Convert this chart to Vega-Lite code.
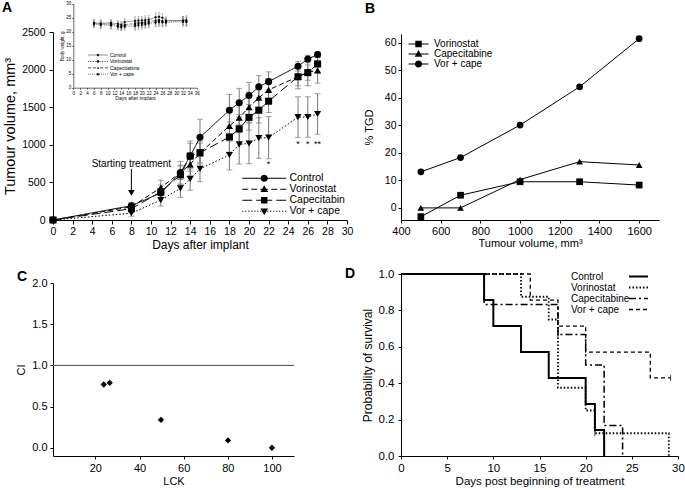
{
  "$schema": "https://vega.github.io/schema/vega-lite/v6.json",
  "padding": {"left": 2, "top": 0, "right": 0, "bottom": 0},
  "bounds": "flush",
  "columns": 2,
  "spacing": {"row": 54, "column": 54},
  "resolve": {"scale": {"shape": "independent", "strokeDash": "independent", "strokeWidth": "independent"}},
  "datasets": {
    "tv": [
      {"s": "Control", "day": 0, "v": 0, "e": 0},
      {"s": "Control", "day": 8, "v": 190, "e": 40},
      {"s": "Control", "day": 11, "v": 360, "e": 60},
      {"s": "Control", "day": 13, "v": 630, "e": 90},
      {"s": "Control", "day": 14, "v": 850, "e": 200},
      {"s": "Control", "day": 15, "v": 1100, "e": 240},
      {"s": "Control", "day": 18, "v": 1460, "e": 210},
      {"s": "Control", "day": 19, "v": 1560, "e": 190},
      {"s": "Control", "day": 20, "v": 1655, "e": 175},
      {"s": "Control", "day": 21, "v": 1770, "e": 150},
      {"s": "Control", "day": 22, "v": 1840, "e": 130},
      {"s": "Control", "day": 25, "v": 2045, "e": 65},
      {"s": "Control", "day": 26, "v": 2140, "e": 50},
      {"s": "Control", "day": 27, "v": 2200, "e": 35},
      {"s": "Vorinostat", "day": 0, "v": 0, "e": 0},
      {"s": "Vorinostat", "day": 8, "v": 175, "e": 40},
      {"s": "Vorinostat", "day": 11, "v": 430, "e": 100},
      {"s": "Vorinostat", "day": 13, "v": 630, "e": 150},
      {"s": "Vorinostat", "day": 14, "v": 740, "e": 150},
      {"s": "Vorinostat", "day": 15, "v": 890, "e": 130},
      {"s": "Vorinostat", "day": 18, "v": 1250, "e": 200},
      {"s": "Vorinostat", "day": 19, "v": 1360, "e": 200},
      {"s": "Vorinostat", "day": 20, "v": 1500, "e": 200},
      {"s": "Vorinostat", "day": 21, "v": 1625, "e": 160},
      {"s": "Vorinostat", "day": 22, "v": 1730, "e": 150},
      {"s": "Vorinostat", "day": 25, "v": 1905, "e": 160},
      {"s": "Vorinostat", "day": 26, "v": 1965, "e": 180},
      {"s": "Vorinostat", "day": 27, "v": 1990, "e": 170},
      {"s": "Capecitabin", "day": 0, "v": 0, "e": 0},
      {"s": "Capecitabin", "day": 8, "v": 150, "e": 35},
      {"s": "Capecitabin", "day": 11, "v": 375, "e": 90},
      {"s": "Capecitabin", "day": 13, "v": 600, "e": 130},
      {"s": "Capecitabin", "day": 14, "v": 850, "e": 170},
      {"s": "Capecitabin", "day": 15, "v": 895, "e": 150},
      {"s": "Capecitabin", "day": 18, "v": 1104, "e": 200},
      {"s": "Capecitabin", "day": 19, "v": 1212, "e": 190},
      {"s": "Capecitabin", "day": 20, "v": 1365, "e": 170},
      {"s": "Capecitabin", "day": 21, "v": 1460, "e": 170},
      {"s": "Capecitabin", "day": 22, "v": 1580, "e": 150},
      {"s": "Capecitabin", "day": 25, "v": 1905, "e": 120},
      {"s": "Capecitabin", "day": 26, "v": 1960, "e": 100},
      {"s": "Capecitabin", "day": 27, "v": 2075, "e": 110},
      {"s": "Vor + cape", "day": 0, "v": 0, "e": 0},
      {"s": "Vor + cape", "day": 8, "v": 90, "e": 40},
      {"s": "Vor + cape", "day": 11, "v": 265, "e": 80},
      {"s": "Vor + cape", "day": 13, "v": 420, "e": 120},
      {"s": "Vor + cape", "day": 14, "v": 545, "e": 150},
      {"s": "Vor + cape", "day": 15, "v": 680, "e": 170},
      {"s": "Vor + cape", "day": 18, "v": 865, "e": 200},
      {"s": "Vor + cape", "day": 19, "v": 1005, "e": 260},
      {"s": "Vor + cape", "day": 20, "v": 1018, "e": 270},
      {"s": "Vor + cape", "day": 21, "v": 1090, "e": 270},
      {"s": "Vor + cape", "day": 22, "v": 1095, "e": 280},
      {"s": "Vor + cape", "day": 25, "v": 1368, "e": 270},
      {"s": "Vor + cape", "day": 26, "v": 1370, "e": 270},
      {"s": "Vor + cape", "day": 27, "v": 1410, "e": 270}
    ],
    "bw": [
      {"s": "Control", "day": 6, "w": 23.2, "e": 1.2},
      {"s": "Control", "day": 8, "w": 23.0, "e": 1.2},
      {"s": "Control", "day": 11, "w": 23.2, "e": 1.2},
      {"s": "Control", "day": 13, "w": 22.8, "e": 1.2},
      {"s": "Control", "day": 14, "w": 22.5, "e": 1.2},
      {"s": "Control", "day": 15, "w": 23.5, "e": 1.2},
      {"s": "Control", "day": 18, "w": 23.8, "e": 1.5},
      {"s": "Control", "day": 19, "w": 24.0, "e": 1.5},
      {"s": "Control", "day": 20, "w": 24.0, "e": 1.5},
      {"s": "Control", "day": 21, "w": 24.2, "e": 1.5},
      {"s": "Control", "day": 22, "w": 24.3, "e": 1.5},
      {"s": "Control", "day": 24, "w": 25.2, "e": 1.5},
      {"s": "Control", "day": 25, "w": 25.3, "e": 1.5},
      {"s": "Control", "day": 26, "w": 25.0, "e": 1.5},
      {"s": "Control", "day": 27, "w": 24.0, "e": 1.3},
      {"s": "Control", "day": 32, "w": 24.0, "e": 1.5},
      {"s": "Control", "day": 33, "w": 24.2, "e": 1.5},
      {"s": "Vorinostat", "day": 6, "w": 22.8, "e": 1.2},
      {"s": "Vorinostat", "day": 8, "w": 22.6, "e": 1.3},
      {"s": "Vorinostat", "day": 11, "w": 22.5, "e": 1.3},
      {"s": "Vorinostat", "day": 13, "w": 22.0, "e": 1.2},
      {"s": "Vorinostat", "day": 14, "w": 21.8, "e": 1.2},
      {"s": "Vorinostat", "day": 15, "w": 22.2, "e": 1.2},
      {"s": "Vorinostat", "day": 18, "w": 22.5, "e": 1.5},
      {"s": "Vorinostat", "day": 19, "w": 22.8, "e": 1.5},
      {"s": "Vorinostat", "day": 20, "w": 23.0, "e": 1.5},
      {"s": "Vorinostat", "day": 21, "w": 23.0, "e": 1.5},
      {"s": "Vorinostat", "day": 22, "w": 23.2, "e": 1.5},
      {"s": "Vorinostat", "day": 24, "w": 23.5, "e": 1.5},
      {"s": "Vorinostat", "day": 25, "w": 23.8, "e": 1.5},
      {"s": "Vorinostat", "day": 26, "w": 23.6, "e": 1.5},
      {"s": "Vorinostat", "day": 27, "w": 23.5, "e": 1.3},
      {"s": "Vorinostat", "day": 32, "w": 23.8, "e": 1.5},
      {"s": "Vorinostat", "day": 33, "w": 23.6, "e": 1.5},
      {"s": "Capecitabina", "day": 6, "w": 23.0, "e": 1.2},
      {"s": "Capecitabina", "day": 8, "w": 22.8, "e": 1.3},
      {"s": "Capecitabina", "day": 11, "w": 22.8, "e": 1.3},
      {"s": "Capecitabina", "day": 13, "w": 22.3, "e": 1.2},
      {"s": "Capecitabina", "day": 14, "w": 22.0, "e": 1.2},
      {"s": "Capecitabina", "day": 15, "w": 22.5, "e": 1.2},
      {"s": "Capecitabina", "day": 18, "w": 23.0, "e": 1.5},
      {"s": "Capecitabina", "day": 19, "w": 23.2, "e": 1.5},
      {"s": "Capecitabina", "day": 20, "w": 23.2, "e": 1.5},
      {"s": "Capecitabina", "day": 21, "w": 23.5, "e": 1.5},
      {"s": "Capecitabina", "day": 22, "w": 23.6, "e": 1.5},
      {"s": "Capecitabina", "day": 24, "w": 24.0, "e": 1.5},
      {"s": "Capecitabina", "day": 25, "w": 24.2, "e": 1.5},
      {"s": "Capecitabina", "day": 26, "w": 23.8, "e": 1.5},
      {"s": "Capecitabina", "day": 27, "w": 23.8, "e": 1.3},
      {"s": "Capecitabina", "day": 32, "w": 24.0, "e": 1.5},
      {"s": "Capecitabina", "day": 33, "w": 23.8, "e": 1.5},
      {"s": "Vor + cape", "day": 6, "w": 22.6, "e": 1.2},
      {"s": "Vor + cape", "day": 8, "w": 22.4, "e": 1.3},
      {"s": "Vor + cape", "day": 11, "w": 22.2, "e": 1.3},
      {"s": "Vor + cape", "day": 13, "w": 21.8, "e": 1.2},
      {"s": "Vor + cape", "day": 14, "w": 21.5, "e": 1.2},
      {"s": "Vor + cape", "day": 15, "w": 21.8, "e": 1.2},
      {"s": "Vor + cape", "day": 18, "w": 22.0, "e": 1.5},
      {"s": "Vor + cape", "day": 19, "w": 22.2, "e": 1.5},
      {"s": "Vor + cape", "day": 20, "w": 22.4, "e": 1.5},
      {"s": "Vor + cape", "day": 21, "w": 22.6, "e": 1.5},
      {"s": "Vor + cape", "day": 22, "w": 22.8, "e": 1.5},
      {"s": "Vor + cape", "day": 24, "w": 23.2, "e": 1.5},
      {"s": "Vor + cape", "day": 25, "w": 23.4, "e": 1.5},
      {"s": "Vor + cape", "day": 26, "w": 23.3, "e": 1.5},
      {"s": "Vor + cape", "day": 27, "w": 23.2, "e": 1.3},
      {"s": "Vor + cape", "day": 32, "w": 23.5, "e": 1.5},
      {"s": "Vor + cape", "day": 33, "w": 23.4, "e": 1.5}
    ],
    "tgd": [
      {"s": "Vorinostat", "vol": 500, "tgd": -3.2},
      {"s": "Vorinostat", "vol": 700, "tgd": 4.6},
      {"s": "Vorinostat", "vol": 1000, "tgd": 9.5},
      {"s": "Vorinostat", "vol": 1300, "tgd": 9.5},
      {"s": "Vorinostat", "vol": 1600, "tgd": 8.3},
      {"s": "Capecitabine", "vol": 500, "tgd": 0},
      {"s": "Capecitabine", "vol": 700, "tgd": 0},
      {"s": "Capecitabine", "vol": 1000, "tgd": 10.3},
      {"s": "Capecitabine", "vol": 1300, "tgd": 16.8},
      {"s": "Capecitabine", "vol": 1600, "tgd": 15.6},
      {"s": "Vor + cape", "vol": 500, "tgd": 13.1},
      {"s": "Vor + cape", "vol": 700, "tgd": 18.3},
      {"s": "Vor + cape", "vol": 1000, "tgd": 30.1},
      {"s": "Vor + cape", "vol": 1300, "tgd": 44.0},
      {"s": "Vor + cape", "vol": 1600, "tgd": 61.5}
    ],
    "ci": [
      {"lck": 23.8, "ci": 0.768},
      {"lck": 26.5, "ci": 0.788},
      {"lck": 49.7, "ci": 0.339},
      {"lck": 80.1, "ci": 0.089},
      {"lck": 100, "ci": 0.0}
    ],
    "km": [
      {"s": "Vorinostat", "t": 0, "p": 1},
      {"s": "Vorinostat", "t": 13, "p": 0.875},
      {"s": "Vorinostat", "t": 16, "p": 0.75},
      {"s": "Vorinostat", "t": 17, "p": 0.375},
      {"s": "Vorinostat", "t": 20, "p": 0.25},
      {"s": "Vorinostat", "t": 21, "p": 0.125},
      {"s": "Vorinostat", "t": 29, "p": 0},
      {"s": "Capecitabine", "t": 0, "p": 1},
      {"s": "Capecitabine", "t": 9, "p": 0.833},
      {"s": "Capecitabine", "t": 17, "p": 0.667},
      {"s": "Capecitabine", "t": 20, "p": 0.5},
      {"s": "Capecitabine", "t": 22, "p": 0.167},
      {"s": "Capecitabine", "t": 24, "p": 0},
      {"s": "Vor + cape", "t": 0, "p": 1},
      {"s": "Vor + cape", "t": 14, "p": 0.857},
      {"s": "Vor + cape", "t": 17, "p": 0.714},
      {"s": "Vor + cape", "t": 20, "p": 0.571},
      {"s": "Vor + cape", "t": 27, "p": 0.429},
      {"s": "Vor + cape", "t": 29.2, "p": 0.429},
      {"s": "Control", "t": 0, "p": 1},
      {"s": "Control", "t": 9, "p": 0.857},
      {"s": "Control", "t": 10, "p": 0.714},
      {"s": "Control", "t": 13, "p": 0.571},
      {"s": "Control", "t": 16, "p": 0.429},
      {"s": "Control", "t": 20, "p": 0.286},
      {"s": "Control", "t": 21, "p": 0.143},
      {"s": "Control", "t": 22, "p": 0}
    ],
    "cens": [
      {"t": 29.2, "p": 0.429},
      {"t": 21, "p": 0.125},
      {"t": 17, "p": 0.667}
    ]
  },
  "concat": [
    {
      "width": 294,
      "height": 188,
      "title": {"text": "A", "dx": -51, "offset": -25, "fontSize": 14, "fontWeight": "bold", "anchor": "start", "frame": "group", "baseline": "alphabetic"},
      "layer": [
        {
          "layer": [
            {
              "data": {"name": "tv"},
              "mark": {"type": "errorbar", "ticks": {"size": 6}, "color": "#7a7a7a"},
              "encoding": {
                "x": {"field": "day", "type": "quantitative", "scale": {"domain": [0, 30], "nice": false},
                  "axis": {"values": [0, 2, 4, 6, 8, 10, 12, 14, 16, 18, 20, 22, 24, 26, 28, 30], "tickCount": 60, "format": "d", "title": "Days after implant", "titleFontSize": 12, "labelFontSize": 10.5, "tickSize": 4, "labelPadding": 2, "titlePadding": 3, "orient": "bottom"}},
                "y": {"field": "v", "type": "quantitative", "scale": {"domain": [0, 2500], "nice": false},
                  "axis": {"values": [0, 500, 1000, 1500, 2000, 2500], "tickCount": 60, "format": "d", "title": "Tumour volume, mm³", "titleFontSize": 14.5, "labelFontSize": 10.5, "tickSize": 4, "labelPadding": 4, "titlePadding": 4, "orient": "left"}},
                "yError": {"field": "e"}
              }
            },
            {
              "data": {"name": "tv"},
              "mark": {"type": "line", "color": "black", "strokeWidth": 1},
              "encoding": {
                "x": {"field": "day", "type": "quantitative"},
                "y": {"field": "v", "type": "quantitative"},
                "strokeDash": {"field": "s", "type": "nominal", "legend": null,
                  "scale": {"domain": ["Control", "Vorinostat", "Capecitabin", "Vor + cape"], "range": [[1, 0], [5, 3], [9, 4], [1.5, 2]]}}
              }
            },
            {
              "data": {"name": "tv"},
              "mark": {"type": "point", "filled": true, "color": "black", "size": 50, "opacity": 1},
              "encoding": {
                "x": {"field": "day", "type": "quantitative"},
                "y": {"field": "v", "type": "quantitative"},
                "shape": {"field": "s", "type": "nominal", "legend": null,
                  "scale": {"domain": ["Control", "Vorinostat", "Capecitabin", "Vor + cape"], "range": ["circle", "triangle-up", "square", "triangle-down"]}}
              }
            },
            {
              "data": {"name": "tv"},
              "mark": {"type": "point", "filled": true, "fill": "black", "stroke": "black", "strokeWidth": 0, "opacity": 0},
              "encoding": {
                "x": {"field": "day", "type": "quantitative"},
                "y": {"field": "v", "type": "quantitative"},
                "shape": {"field": "s", "type": "nominal", "title": null,
                  "scale": {"domain": ["Control", "Vorinostat", "Capecitabin", "Vor + cape"],
                    "range": [
                      "M-5.5,-0.125H5.5V0.125H-5.5ZM0.9,0A0.9,0.9,0,1,1,-0.9,0A0.9,0.9,0,1,1,0.9,0Z",
                      "M-5.5,-0.125H-4V0.125H-5.5ZM-3.25,-0.125H-1.75V0.125H-3.25ZM-1,-0.125H1V0.125H-1ZM1.75,-0.125H3.25V0.125H1.75ZM4,-0.125H5.5V0.125H4ZM0,-1L0.95,0.7L-0.95,0.7Z",
                      "M-5.5,-0.125H-3V0.125H-5.5ZM-2,-0.125H2V0.125H-2ZM3,-0.125H5.5V0.125H3ZM-0.8,-0.8H0.8V0.8H-0.8Z",
                      "M-5.5,-0.125H-5.2V0.125H-5.5ZM-4.75,-0.125H-4.45V0.125H-4.75ZM-4,-0.125H-3.7V0.125H-4ZM-3.25,-0.125H-2.95V0.125H-3.25ZM-2.5,-0.125H-2.2V0.125H-2.5ZM-1.75,-0.125H-1.45V0.125H-1.75ZM-1,-0.125H-0.7V0.125H-1ZM0.7,-0.125H1V0.125H0.7ZM1.45,-0.125H1.75V0.125H1.45ZM2.2,-0.125H2.5V0.125H2.2ZM2.95,-0.125H3.25V0.125H2.95ZM3.7,-0.125H4V0.125H3.7ZM4.45,-0.125H4.75V0.125H4.45ZM5.2,-0.125H5.5V0.125H5.2ZM0,1L-0.95,-0.7L0.95,-0.7Z"
                    ]},
                  "legend": {"orient": "none", "legendX": 206, "legendY": 141, "symbolSize": 64, "symbolFillColor": "black", "symbolStrokeWidth": 0, "symbolOpacity": 1, "labelOffset": 20, "labelFontSize": 10.5, "rowPadding": 0, "padding": 0}}
              }
            },
            {
              "data": {"values": [{}]},
              "mark": {"type": "text", "text": "Starting treatment", "fontSize": 10, "align": "center", "baseline": "middle", "color": "black"},
              "encoding": {"x": {"datum": 8}, "y": {"datum": 745}}
            },
            {
              "data": {"values": [{}]},
              "mark": {"type": "rule", "color": "black", "strokeWidth": 1},
              "encoding": {"x": {"datum": 8}, "y": {"datum": 680}, "y2": {"datum": 380}}
            },
            {
              "data": {"values": [{}]},
              "mark": {"type": "point", "shape": "triangle-down", "filled": true, "color": "black", "size": 45, "opacity": 1},
              "encoding": {"x": {"datum": 8}, "y": {"datum": 360}}
            },
            {
              "data": {"values": [
                {"day": 22, "v": 745, "t": "*"},
                {"day": 25, "v": 1015, "t": "*"},
                {"day": 26, "v": 1015, "t": "*"},
                {"day": 27, "v": 1015, "t": "**"}
              ]},
              "mark": {"type": "text", "fontSize": 9, "align": "center", "baseline": "middle", "color": "black"},
              "encoding": {"x": {"field": "day", "type": "quantitative"}, "y": {"field": "v", "type": "quantitative"}, "text": {"field": "t"}}
            }
          ],
          "resolve": {"scale": {"shape": "independent"}}
        },
        {
          "data": {"name": "bw"},
          "layer": [
            {
              "mark": {"type": "errorbar", "ticks": {"size": 2}, "color": "#888", "thickness": 0.6},
              "encoding": {
                "x": {"field": "day", "type": "quantitative", "scale": {"domain": [0, 36], "range": [20.3, 143.7], "nice": false},
                  "axis": {"orient": "bottom", "offset": -132.3, "values": [0, 2, 4, 6, 8, 10, 12, 14, 16, 18, 20, 22, 24, 26, 28, 30, 32, 34, 36], "tickCount": 60, "format": "d", "labelFontSize": 4.5, "tickSize": 1.5, "labelPadding": 1, "title": "Days after implant", "titleFontSize": 5, "titlePadding": 1, "domainWidth": 0.6, "tickWidth": 0.6, "labelOverlap": false}},
                "y": {"field": "w", "type": "quantitative", "scale": {"domain": [0, 30], "range": [55.7, -28.3], "nice": false, "zero": false},
                  "axis": {"orient": "left", "offset": -20.3, "values": [0, 5, 10, 15, 20, 25, 30], "tickCount": 60, "format": "d", "labelFontSize": 4.5, "tickSize": 1.5, "labelPadding": 1, "title": "Body weight, g", "titleFontSize": 4.5, "titlePadding": 1, "domainWidth": 0.6, "tickWidth": 0.6, "labelOverlap": false}},
                "yError": {"field": "e"}
              }
            },
            {
              "mark": {"type": "line", "color": "#666", "strokeWidth": 0.7},
              "encoding": {
                "x": {"field": "day", "type": "quantitative"},
                "y": {"field": "w", "type": "quantitative"},
                "strokeDash": {"field": "s", "type": "nominal", "legend": null,
                  "scale": {"domain": ["Control", "Vorinostat", "Capecitabina", "Vor + cape"], "range": [[1, 0], [1, 1], [3, 1.5], [1, 1.5]]}}
              }
            },
            {
              "mark": {"type": "point", "filled": true, "color": "black", "size": 4, "shape": "circle", "opacity": 1},
              "encoding": {
                "x": {"field": "day", "type": "quantitative"},
                "y": {"field": "w", "type": "quantitative"}
              }
            },
            {
              "mark": {"type": "point", "filled": true, "fill": "#222", "stroke": "#222", "strokeWidth": 0, "opacity": 0},
              "encoding": {
                "x": {"field": "day", "type": "quantitative"},
                "y": {"field": "w", "type": "quantitative"},
                "shape": {"field": "s", "type": "nominal", "title": null,
                  "scale": {"domain": ["Control", "Vorinostat", "Capecitabina", "Vor + cape"],
                    "range": [
                      "M-5,-0.175H5V0.175H-5ZM0.65,0A0.65,0.65,0,1,1,-0.65,0A0.65,0.65,0,1,1,0.65,0Z",
                      "M-5,-0.175H-4.4V0.175H-5ZM-3.8,-0.175H-3.2V0.175H-3.8ZM-2.6,-0.175H-2V0.175H-2.6ZM-1.4,-0.175H-0.8V0.175H-1.4ZM0.8,-0.175H1.4V0.175H0.8ZM2,-0.175H2.6V0.175H2ZM3.2,-0.175H3.8V0.175H3.2ZM4.4,-0.175H5V0.175H4.4ZM0.65,0A0.65,0.65,0,1,1,-0.65,0A0.65,0.65,0,1,1,0.65,0Z",
                      "M-5,-0.175H-3.5V0.175H-5ZM-2.5,-0.175H-1V0.175H-2.5ZM1,-0.175H2.5V0.175H1ZM3.5,-0.175H5V0.175H3.5ZM0,-0.7L0.65,0.5L-0.65,0.5Z",
                      "M-5,-0.175H-4.6V0.175H-5ZM-4,-0.175H-3.6V0.175H-4ZM-3,-0.175H-2.6V0.175H-3ZM-2,-0.175H-1.6V0.175H-2ZM-1,-0.175H-0.6V0.175H-1ZM0.6,-0.175H1V0.175H0.6ZM1.6,-0.175H2V0.175H1.6ZM2.6,-0.175H3V0.175H2.6ZM3.6,-0.175H4V0.175H3.6ZM4.6,-0.175H5V0.175H4.6ZM0.65,0A0.65,0.65,0,1,1,-0.65,0A0.65,0.65,0,1,1,0.65,0Z"
                    ]},
                  "legend": {"orient": "none", "legendX": 42.5, "legendY": 20.5, "symbolSize": 16, "symbolFillColor": "#222", "symbolStrokeWidth": 0, "symbolOpacity": 1, "labelOffset": 9.5, "labelFontSize": 5, "rowPadding": 0.4, "padding": 0}}
              }
            }
          ],
          "resolve": {"scale": {"shape": "independent"}}
        }
      ],
      "resolve": {"scale": {"x": "independent", "y": "independent", "shape": "independent", "strokeDash": "independent"}, "axis": {"x": "independent", "y": "independent"}}
    },
    {
      "width": 258,
      "height": 188,
      "title": {"text": "B", "dx": -36, "offset": 5.5, "fontSize": 14, "fontWeight": "bold", "anchor": "start", "frame": "group", "baseline": "alphabetic"},
      "data": {"name": "tgd"},
      "layer": [
        {
          "mark": {"type": "line", "color": "black", "strokeWidth": 1},
          "encoding": {
            "x": {"field": "vol", "type": "quantitative", "scale": {"domain": [400, 1700], "nice": false, "zero": false},
              "axis": {"values": [400, 600, 800, 1000, 1200, 1400, 1600], "tickCount": 60, "format": "d", "title": "Tumour volume, mm³", "titleFontSize": 11, "labelFontSize": 11, "tickSize": 3, "labelPadding": 2, "titlePadding": 1}},
            "y": {"field": "tgd", "type": "quantitative", "scale": {"domain": [-4.4, 63.2], "range": [188, 2], "nice": false, "zero": false},
              "axis": {"values": [0, 10, 20, 30, 40, 50, 60], "tickCount": 60, "format": "d", "title": "% TGD", "titleFontSize": 11, "labelFontSize": 10.5, "tickSize": 3, "labelPadding": 2, "titlePadding": 10}},
            "detail": {"field": "s"}
          }
        },
        {
          "mark": {"type": "point", "filled": true, "color": "black", "size": 45, "opacity": 1},
          "encoding": {
            "x": {"field": "vol", "type": "quantitative"},
            "y": {"field": "tgd", "type": "quantitative"},
            "shape": {"field": "s", "type": "nominal", "legend": null,
              "scale": {"domain": ["Vorinostat", "Capecitabine", "Vor + cape"], "range": ["square", "triangle-up", "circle"]}}
          }
        },
        {
          "mark": {"type": "point", "filled": true, "fill": "black", "stroke": "black", "strokeWidth": 0, "opacity": 0},
          "encoding": {
            "x": {"field": "vol", "type": "quantitative"},
            "y": {"field": "tgd", "type": "quantitative"},
            "shape": {"field": "s", "type": "nominal", "title": null,
              "scale": {"domain": ["Vorinostat", "Capecitabine", "Vor + cape"],
                "range": [
                  "M-2.5,-0.125H2.5V0.125H-2.5ZM-0.8,-0.8H0.8V0.8H-0.8Z",
                  "M-2.5,-0.125H2.5V0.125H-2.5ZM0,-1L0.95,0.7L-0.95,0.7Z",
                  "M-2.5,-0.125H2.5V0.125H-2.5ZM0.9,0A0.9,0.9,0,1,1,-0.9,0A0.9,0.9,0,1,1,0.9,0Z"
                ]},
              "legend": {"orient": "none", "legendX": 12.5, "legendY": 7, "symbolSize": 64, "symbolFillColor": "black", "symbolStrokeWidth": 0, "symbolOpacity": 1, "labelOffset": 10.5, "labelFontSize": 10, "rowPadding": -1.5, "padding": 0}}
          }
        }
      ],
      "resolve": {"scale": {"shape": "independent"}}
    },
    {
      "width": 241,
      "height": 182,
      "title": {"text": "C", "dx": -36, "offset": -21, "fontSize": 14, "fontWeight": "bold", "anchor": "start", "frame": "group", "baseline": "alphabetic"},
      "layer": [
        {
          "data": {"values": [{}]},
          "mark": {"type": "rule", "color": "#444", "strokeWidth": 1},
          "encoding": {"y": {"datum": 1}}
        },
        {
          "data": {"name": "ci"},
          "mark": {"type": "point", "filled": true, "shape": "diamond", "color": "black", "size": 40, "opacity": 1},
          "encoding": {
            "x": {"field": "lck", "type": "quantitative", "scale": {"domain": [0.8, 110], "nice": false, "zero": false},
              "axis": {"values": [20, 40, 60, 80, 100], "tickCount": 60, "format": "d", "title": "LCK", "titleFontSize": 11, "labelFontSize": 11, "tickSize": 3, "labelPadding": 3, "titlePadding": 2}},
            "y": {"field": "ci", "type": "quantitative", "scale": {"domain": [-0.1, 2], "range": [182, 9], "nice": false, "zero": false},
              "axis": {"values": [0, 0.5, 1, 1.5, 2], "tickCount": 60, "format": ".1f", "title": "CI", "titleFontSize": 11, "labelFontSize": 11, "tickSize": 3, "labelPadding": 3, "titlePadding": 5}}
          }
        }
      ]
    },
    {
      "width": 277,
      "height": 182,
      "title": {"text": "D", "dx": -56, "offset": -24, "fontSize": 14, "fontWeight": "bold", "anchor": "start", "frame": "group", "baseline": "alphabetic"},
      "layer": [
        {
          "data": {"name": "km"},
          "mark": {"type": "line", "interpolate": "step-after", "color": "black"},
          "encoding": {
            "x": {"field": "t", "type": "quantitative", "scale": {"domain": [0, 30], "nice": false},
              "axis": {"values": [0, 5, 10, 15, 20, 25, 30], "tickCount": 60, "format": "d", "title": "Days post beginning of treatment", "titleFontSize": 11.5, "labelFontSize": 11.5, "tickSize": 3, "labelPadding": 3, "titlePadding": 2}},
            "y": {"field": "p", "type": "quantitative", "scale": {"domain": [0, 1], "nice": false},
              "axis": {"values": [0, 0.2, 0.4, 0.6, 0.8, 1], "tickCount": 60, "format": ".1f", "title": "Probability of survival", "titleFontSize": 12, "labelFontSize": 11.5, "tickSize": 3, "labelPadding": 4, "titlePadding": 4}},
            "strokeDash": {"field": "s", "type": "nominal", "title": null,
              "scale": {"domain": ["Control", "Vorinostat", "Capecitabine", "Vor + cape"], "range": [[1, 0], [1.5, 2], [7, 3, 2, 3], [4, 3]]},
              "legend": {"orient": "none", "legendX": 158, "legendY": -2.5, "symbolType": "M32.5,0H42", "symbolSize": 16, "symbolStrokeColor": "black", "labelOffset": 2, "labelFontSize": 10, "rowPadding": 1, "padding": 0}},
            "strokeWidth": {"field": "s", "type": "nominal", "title": null,
              "scale": {"domain": ["Control", "Vorinostat", "Capecitabine", "Vor + cape"], "range": [2, 1.3, 1.3, 1.3]},
              "legend": {"orient": "none", "legendX": 158, "legendY": -2.5, "symbolType": "M32.5,0H42", "symbolSize": 16, "symbolStrokeColor": "black", "labelOffset": 2, "labelFontSize": 10, "rowPadding": 1, "padding": 0}}
          }
        },
        {
          "data": {"name": "cens"},
          "mark": {"type": "tick", "orient": "vertical", "size": 6, "color": "black", "thickness": 1},
          "encoding": {
            "x": {"field": "t", "type": "quantitative"},
            "y": {"field": "p", "type": "quantitative"}
          }
        }
      ]
    }
  ],
  "config": {
    "font": "Liberation Sans",
    "view": {"stroke": null},
    "axis": {"grid": false, "domainColor": "black", "tickColor": "black", "labelColor": "black", "titleColor": "black", "titleFontWeight": "normal", "labelFlush": false, "labelOverlap": false, "domainWidth": 1, "tickWidth": 1},
    "legend": {"labelColor": "black", "padding": 0, "titlePadding": 0},
    "title": {"color": "black"}
  }
}
